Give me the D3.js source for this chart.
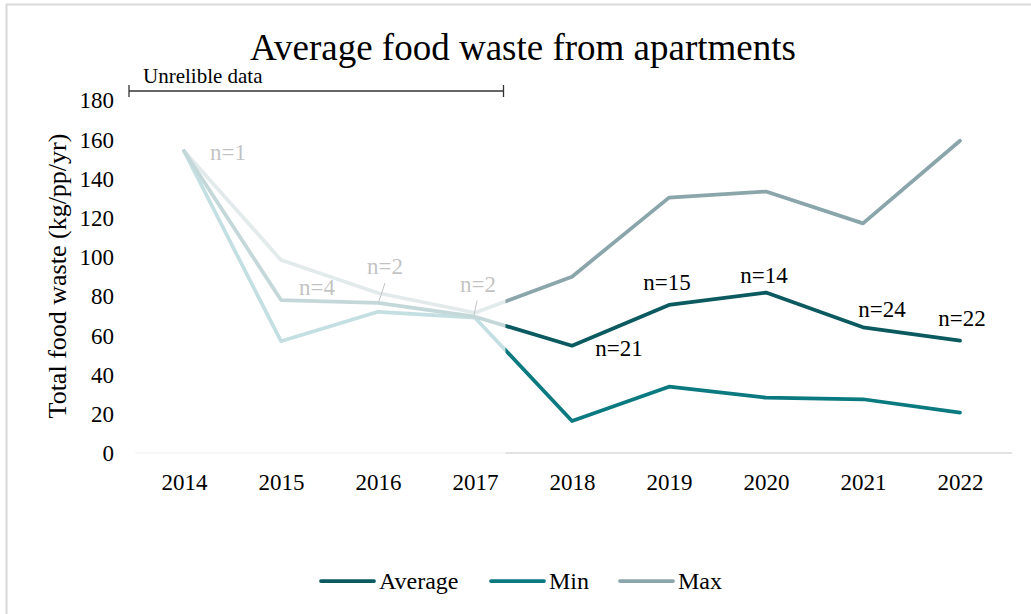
<!DOCTYPE html>
<html>
<head>
<meta charset="utf-8">
<script src="https://cdn.jsdelivr.net/npm/d3@7/dist/d3.min.js"></script>
<style>
  html, body { margin: 0; padding: 0; background: #fff; }
  svg { display: block; }
  svg text { font-family: "Liberation Serif", "Times New Roman", serif; }
</style>
</head>
<body>
<svg id="chart" width="1031" height="614"></svg>
<script>
// Years on the category axis
const years = ["2014", "2015", "2016", "2017", "2018", "2019", "2020", "2021", "2022"];
// Food waste per person per year (kg)
const averageValues = [154, 78, 76.5, 69.5, 54.7, 75.5, 81.8, 64.1, 57.3];
const minValues = [154, 57, 72, 69, 16.3, 33.8, 28.2, 27.4, 20.6];
const maxValues = [154, 98.4, 81.6, 71.5, 89.9, 130.2, 133.3, 117.1, 159.2];
// Sample counts shown beside the average line
const sampleLabels = ["n=1", "n=4", "n=2", "n=2", "n=21", "n=15", "n=14", "n=24", "n=22"];
const yTicks = [0, 20, 40, 60, 80, 100, 120, 140, 160, 180];
const seriesNames = ["Average", "Min", "Max"];
const seriesColors = ["#0b5a5f", "#0a7a80", "#8aa6aa"];

const svg = d3.select("#chart");

// chart frame
svg.append("rect")
  .attr("x", 6.5).attr("y", 4.5).attr("width", 1040).attr("height", 620)
  .attr("fill", "#fff").attr("stroke", "#d9d9d9").attr("stroke-width", 2);

const x = d3.scalePoint().domain(years).range([135.5, 1008.5]).padding(0.5);
const y = d3.scaleLinear().domain([0, 180]).range([453, 100]);

// title
svg.append("text")
  .attr("x", 523).attr("y", 60)
  .attr("text-anchor", "middle")
  .attr("font-size", 37)
  .attr("fill", "#000")
  .text("Average food waste from apartments");

// y axis labels
const yAxis = d3.axisLeft(y).tickValues(yTicks).tickSize(0).tickPadding(0);
svg.append("g")
  .attr("transform", "translate(114,0)")
  .call(yAxis)
  .call(g => g.attr("font-family", null))
  .call(g => g.select(".domain").remove())
  .call(g => g.selectAll("text")
    .attr("font-size", 23).attr("fill", "#000").attr("dy", "0.34em"));

svg.append("text")
  .attr("transform", "translate(66,276) rotate(-90)")
  .attr("text-anchor", "middle")
  .attr("font-size", 26)
  .attr("fill", "#000")
  .text("Total food waste (kg/pp/yr)");

// x axis
const xAxis = d3.axisBottom(x).tickSize(0).tickPadding(0);
svg.append("g")
  .attr("transform", "translate(0,453)")
  .call(xAxis)
  .call(g => g.attr("font-family", null))
  .call(g => g.select(".domain").remove())
  .call(g => g.selectAll("text")
    .attr("font-size", 23).attr("fill", "#000").attr("y", 37).attr("dy", 0));

svg.append("line")
  .attr("x1", 135).attr("x2", 1012)
  .attr("y1", y(0)).attr("y2", y(0))
  .attr("stroke", "#d9d9d9").attr("stroke-width", 1.5);

// series lines
const line = d3.line()
  .x((d, i) => x(years[i]))
  .y(d => y(d));

const seriesValues = [averageValues, minValues, maxValues];
const drawOrder = [2, 1, 0];
drawOrder.forEach(k => {
  svg.append("path")
    .datum(seriesValues[k])
    .attr("d", line)
    .attr("fill", "none")
    .attr("stroke", seriesColors[k])
    .attr("stroke-width", 3.75)
    .attr("stroke-linejoin", "round")
    .attr("stroke-linecap", "round");
});

// sample-count labels, offset from each average point
const labelOffsets = [[44, 9], [36, -5], [7, -29], [3, -25], [47, 10], [-2, -15], [-2, -10], [19, -10], [2, -15]];
const leaderLines = { 2: [[7, -20], [1, -2]], 3: [[2, -16], [-1, -2]] };

sampleLabels.forEach((t, i) => {
  const px = x(years[i]);
  const py = y(averageValues[i]);
  svg.append("text")
    .attr("x", px + labelOffsets[i][0])
    .attr("y", py + labelOffsets[i][1])
    .attr("text-anchor", "middle")
    .attr("font-size", 23)
    .attr("fill", "#000")
    .text(t);
  if (leaderLines[i]) {
    const [a, b] = leaderLines[i];
    svg.append("line")
      .attr("x1", px + a[0]).attr("y1", py + a[1])
      .attr("x2", px + b[0]).attr("y2", py + b[1])
      .attr("stroke", "#000").attr("stroke-width", 1);
  }
});

// wash over the unreliable years
const washRight = (x("2017") + x("2018")) / 2 - 18;
svg.append("rect")
  .attr("x", 120).attr("y", 96)
  .attr("width", washRight - 120).attr("height", 362)
  .attr("fill", "#fff").attr("fill-opacity", 0.76);

// unreliable-data bracket
const bracketY = 91;
svg.append("line")
  .attr("x1", 129).attr("x2", washRight - 2)
  .attr("y1", bracketY).attr("y2", bracketY)
  .attr("stroke", "#333").attr("stroke-width", 1.3);
[129, washRight - 2].forEach(bx => {
  svg.append("line")
    .attr("x1", bx).attr("x2", bx)
    .attr("y1", bracketY - 6).attr("y2", bracketY + 6)
    .attr("stroke", "#333").attr("stroke-width", 1.3);
});
svg.append("text")
  .attr("x", 143).attr("y", 83)
  .attr("font-size", 21)
  .attr("fill", "#000")
  .text("Unrelible data");

// legend
const legendX = [321, 491, 620];
seriesNames.forEach((name, i) => {
  const g = svg.append("g").attr("transform", `translate(${legendX[i]},581)`);
  g.append("line")
    .attr("x1", 0).attr("x2", 53).attr("y1", 0).attr("y2", 0)
    .attr("stroke", seriesColors[i]).attr("stroke-width", 3.75)
    .attr("stroke-linecap", "round");
  g.append("text")
    .attr("x", 58).attr("y", 7.5)
    .attr("font-size", 24)
    .attr("fill", "#000")
    .text(name);
});
</script>
</body>
</html>
